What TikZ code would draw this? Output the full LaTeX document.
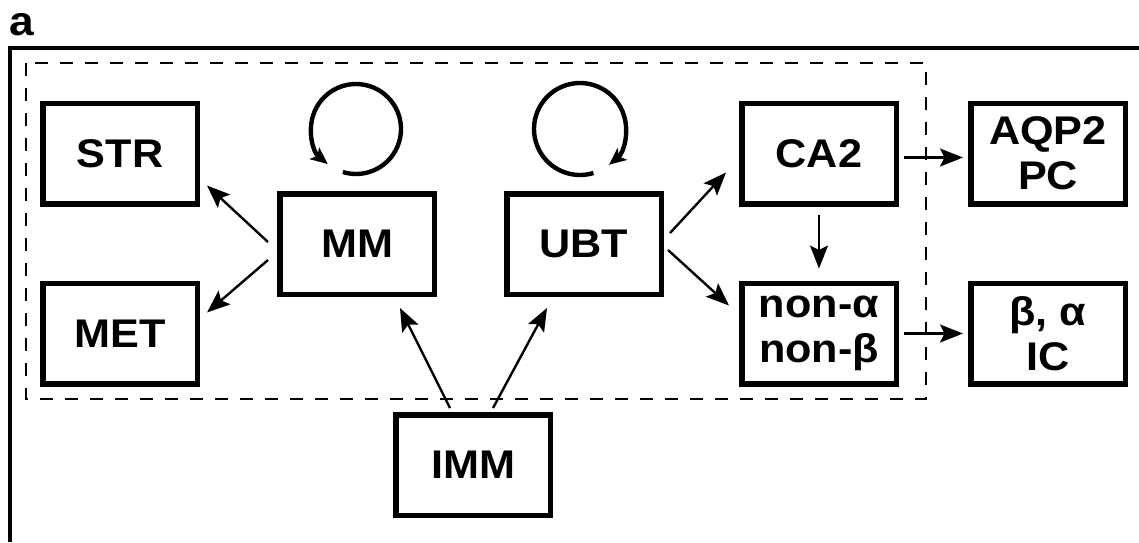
\documentclass[tikz,border=0pt]{standalone}
\usepackage{fontspec}
\setmainfont{Liberation Sans}[FakeStretch=1.08]
\usetikzlibrary{arrows.meta}
\begin{document}
\begin{tikzpicture}[x=1pt,y=1pt,
  cell/.style={draw,line width=5.5pt,minimum width=154.5pt,minimum height=100.5pt,
    inner sep=0pt,align=center,font=\fontsize{40}{45}\selectfont\bfseries},
  arr/.style={line width=2.4pt,-{Stealth[length=23pt,width=18pt,inset=4.5pt]}},
  loop/.style={line width=4.4pt,-{Stealth[length=17pt,width=15pt,inset=4pt]}},
  frame/.style={line width=3.2pt},
  group/.style={line width=2.4pt,dash pattern=on 13pt off 12pt}]
\useasboundingbox (0,0) rectangle (1139,-542);
\clip (0,0) rectangle (1139,-542);

% panel letter and frame
\node[anchor=base west,inner sep=0pt,font=\fontsize{41}{41}\selectfont\bfseries] (lbl) at (9,-35) {a};
\draw[frame] (10,-542) -- (10,-48) -- (1139,-48);

% dashed grouping box
\draw[group] (26,-63) rectangle (926,-399);

% cell populations
\node[cell] (str) at (120,-153.5) {STR};
\node[cell] (met) at (120,-333.5) {MET};
\node[cell] (mm)  at (357,-244) {MM};
\node[cell] (ubt) at (584,-244) {UBT};
\node[cell] (ca2) at (819,-153.5) {CA2};
\node[cell] (non) at (819,-333.5) {non-α\\non-β};
\node[cell] (aqp) at (1048,-153.5) {AQP2\\PC};
\node[cell] (ba)  at (1048,-333.5) {β, α\\IC};
\node[cell] (imm) at (473,-465) {IMM};

% self-renewal loops
\coordinate (mmloop) at (356,-129);
\coordinate (ubtloop) at (580,-129);
\draw[loop] (mmloop) ++(253:45) arc[start angle=253,end angle=591,radius=45];
\draw[loop] (ubtloop) ++(287:46) arc[start angle=287,end angle=-51,radius=46];

% lineage arrows
\draw[arr] ([xshift=-9pt,yshift=2pt]mm.west) -- ([xshift=7pt,yshift=21pt]str.south east);
\draw[arr] ([xshift=-9pt,yshift=-16pt]mm.west) -- ([xshift=7pt,yshift=-32pt]met.north east);
\draw[arr] ([xshift=-23pt,yshift=4pt]imm.north) -- ([xshift=43pt,yshift=-11pt]mm.south);
\draw[arr] ([xshift=20pt,yshift=4pt]imm.north) -- ([xshift=-37pt,yshift=-11pt]ubt.south);
\draw[arr] ([xshift=6pt,yshift=11pt]ubt.east) -- ([xshift=-13pt,yshift=34pt]ca2.south west);
\draw[arr] ([xshift=4pt,yshift=-6pt]ubt.east) -- ([xshift=-10pt,yshift=-25pt]non.north west);
\draw[arr,shorten <=8pt,shorten >=12pt] (ca2.south) -- (non.north);
\draw[arr,shorten <=5pt,shorten >=5pt] ([yshift=-4pt]ca2.east) -- ([yshift=-4pt]aqp.west);
\draw[arr,shorten <=5pt,shorten >=5pt] (non.east) -- (ba.west);
\end{tikzpicture}
\end{document}
